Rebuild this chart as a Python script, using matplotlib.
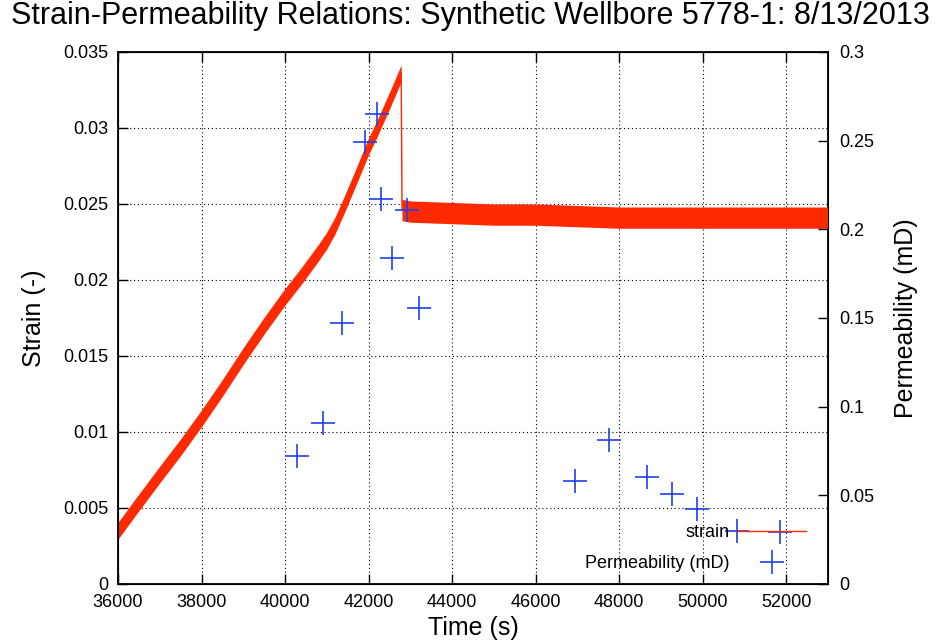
import numpy as np
import matplotlib
matplotlib.use("Agg")
import matplotlib.pyplot as plt

plt.rcParams["font.family"] = ["Liberation Sans", "DejaVu Sans"]

# strain record (centre of the noisy trace) and its noise half-width
strain_time = [36000, 36400, 37000, 37500, 38000, 38500, 39000, 39500, 40000,
               40400, 40800, 41000, 41200, 41440, 41700, 42000, 42210, 42500,
               42780, 42800, 43000, 44000, 45000, 46000, 47000, 48000, 49000,
               50000, 51000, 52000, 53000]
strain = [0.0035, 0.0050, 0.0072, 0.0090, 0.0109, 0.0129, 0.0150, 0.0170, 0.0189,
          0.0203, 0.0218, 0.0226, 0.0236, 0.0251, 0.0268, 0.0288, 0.0300, 0.0318,
          0.0336, 0.0246, 0.0245, 0.0244, 0.0243, 0.0243, 0.0242, 0.0241, 0.0241,
          0.0241, 0.0241, 0.0241, 0.0241]
strain_noise = [0.00055] * 19 + [0.0007] * 12

# permeability measurements
perm_time = [40290, 40910, 41365, 41916, 42196, 42299, 42555, 42915, 43215,
             46946, 47768, 48671, 49270, 49868, 50833, 51847]
perm = [0.0722, 0.0908, 0.1472, 0.2494, 0.2649, 0.2171, 0.1837, 0.2109, 0.1555,
        0.0581, 0.0812, 0.0603, 0.0508, 0.0423, 0.0301, 0.0292]

red = "#ff2a00"
blue = "#2040f0"

fig = plt.figure(figsize=(9.41, 6.44), dpi=100)
ax = fig.add_axes([0.1254, 0.0932, 0.7545, 0.8261])

t = np.array(strain_time, dtype=float)
s = np.array(strain)
n = np.array(strain_noise)
ax.fill_between(t, s - n, s + n, color=red, lw=0, zorder=3)
line, = ax.plot(t, s, color=red, lw=1.0, zorder=3, label="strain")

ax.set_xlim(36000, 53000)
ax.set_ylim(0, 0.035)
ax.set_xticks(np.arange(36000, 53000, 2000))
ax.set_yticks(np.arange(0, 0.0351, 0.005))
ax.set_yticklabels(["0", "0.005", "0.01", "0.015", "0.02", "0.025", "0.03", "0.035"])
ax.grid(True, color="black", linestyle=(0, (1, 2.5)), linewidth=0.8)
ax.tick_params(direction="in", length=7, width=1, labelsize=13, top=True,
               right=False, pad=7)
ax.set_xlabel("Time (s)", fontsize=18, labelpad=4)
ax.set_ylabel("Strain (-)", fontsize=18, labelpad=12)
for sp in ax.spines.values():
    sp.set_linewidth(1.3)

ax2 = ax.twinx()
pts, = ax2.plot(perm_time, perm, linestyle="none", marker="+", markersize=17,
                markeredgewidth=1.2, color=blue, zorder=4,
                label="Permeability (mD)")
ax2.set_ylim(0, 0.3)
ax2.set_yticks(np.arange(0, 0.301, 0.05))
ax2.set_yticklabels(["0", "0.05", "0.1", "0.15", "0.2", "0.25", "0.3"])
ax2.tick_params(direction="in", length=7, width=1, labelsize=13, pad=8)
ax2.set_ylabel("Permeability (mD)", fontsize=18, labelpad=14)

ax2.legend(handles=[line, pts], loc="lower right", bbox_to_anchor=(0.969, 0.022),
           frameon=False, markerfirst=False, fontsize=13, handlelength=3.8,
           handletextpad=0.45, labelspacing=0.8, borderaxespad=0,
           borderpad=0, numpoints=1)

fig.suptitle("Strain-Permeability Relations: Synthetic Wellbore 5778-1: 8/13/2013",
             fontsize=22, y=0.998)

fig.savefig("out.png", dpi=100)
